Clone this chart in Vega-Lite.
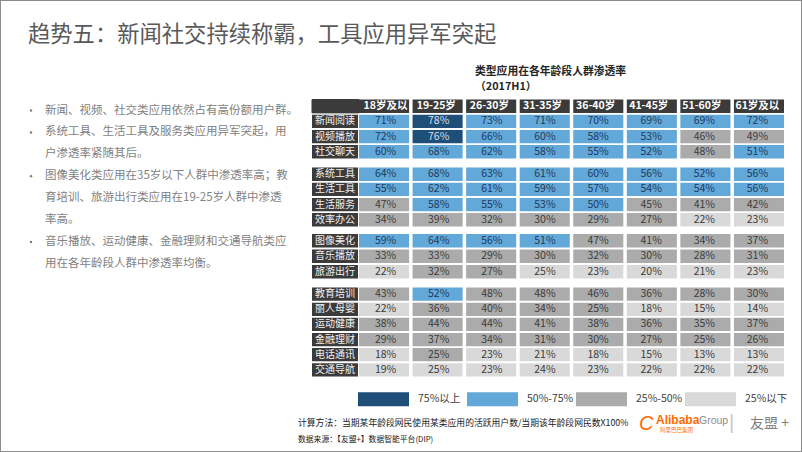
{
  "$schema": "https://vega.github.io/schema/vega-lite/v6.json",
  "width": 802,
  "height": 452,
  "autosize": {"type": "fit", "contains": "padding"},
  "padding": 0,
  "background": "#ffffff",
  "config": {
    "font": "Microsoft YaHei, Noto Sans CJK SC, sans-serif",
    "view": {"stroke": "#8c8c8c", "strokeWidth": 2}
  },
  "datasets": {
    "cells": [
      {"g":1,"app":"新闻阅读","age":"18岁及以下","v":0.71,"lv":"50%-75%"},
      {"g":1,"app":"新闻阅读","age":"19-25岁","v":0.78,"lv":"75%以上"},
      {"g":1,"app":"新闻阅读","age":"26-30岁","v":0.73,"lv":"50%-75%"},
      {"g":1,"app":"新闻阅读","age":"31-35岁","v":0.71,"lv":"50%-75%"},
      {"g":1,"app":"新闻阅读","age":"36-40岁","v":0.70,"lv":"50%-75%"},
      {"g":1,"app":"新闻阅读","age":"41-45岁","v":0.69,"lv":"50%-75%"},
      {"g":1,"app":"新闻阅读","age":"51-60岁","v":0.69,"lv":"50%-75%"},
      {"g":1,"app":"新闻阅读","age":"61岁及以上","v":0.72,"lv":"50%-75%"},
      {"g":1,"app":"视频播放","age":"18岁及以下","v":0.72,"lv":"50%-75%"},
      {"g":1,"app":"视频播放","age":"19-25岁","v":0.76,"lv":"75%以上"},
      {"g":1,"app":"视频播放","age":"26-30岁","v":0.66,"lv":"50%-75%"},
      {"g":1,"app":"视频播放","age":"31-35岁","v":0.60,"lv":"50%-75%"},
      {"g":1,"app":"视频播放","age":"36-40岁","v":0.58,"lv":"50%-75%"},
      {"g":1,"app":"视频播放","age":"41-45岁","v":0.53,"lv":"50%-75%"},
      {"g":1,"app":"视频播放","age":"51-60岁","v":0.46,"lv":"25%-50%"},
      {"g":1,"app":"视频播放","age":"61岁及以上","v":0.49,"lv":"25%-50%"},
      {"g":1,"app":"社交聊天","age":"18岁及以下","v":0.60,"lv":"50%-75%"},
      {"g":1,"app":"社交聊天","age":"19-25岁","v":0.68,"lv":"50%-75%"},
      {"g":1,"app":"社交聊天","age":"26-30岁","v":0.62,"lv":"50%-75%"},
      {"g":1,"app":"社交聊天","age":"31-35岁","v":0.58,"lv":"50%-75%"},
      {"g":1,"app":"社交聊天","age":"36-40岁","v":0.55,"lv":"50%-75%"},
      {"g":1,"app":"社交聊天","age":"41-45岁","v":0.52,"lv":"50%-75%"},
      {"g":1,"app":"社交聊天","age":"51-60岁","v":0.48,"lv":"25%-50%"},
      {"g":1,"app":"社交聊天","age":"61岁及以上","v":0.51,"lv":"50%-75%"},
      {"g":2,"app":"系统工具","age":"18岁及以下","v":0.64,"lv":"50%-75%"},
      {"g":2,"app":"系统工具","age":"19-25岁","v":0.68,"lv":"50%-75%"},
      {"g":2,"app":"系统工具","age":"26-30岁","v":0.63,"lv":"50%-75%"},
      {"g":2,"app":"系统工具","age":"31-35岁","v":0.61,"lv":"50%-75%"},
      {"g":2,"app":"系统工具","age":"36-40岁","v":0.60,"lv":"50%-75%"},
      {"g":2,"app":"系统工具","age":"41-45岁","v":0.56,"lv":"50%-75%"},
      {"g":2,"app":"系统工具","age":"51-60岁","v":0.52,"lv":"50%-75%"},
      {"g":2,"app":"系统工具","age":"61岁及以上","v":0.56,"lv":"50%-75%"},
      {"g":2,"app":"生活工具","age":"18岁及以下","v":0.55,"lv":"50%-75%"},
      {"g":2,"app":"生活工具","age":"19-25岁","v":0.62,"lv":"50%-75%"},
      {"g":2,"app":"生活工具","age":"26-30岁","v":0.61,"lv":"50%-75%"},
      {"g":2,"app":"生活工具","age":"31-35岁","v":0.59,"lv":"50%-75%"},
      {"g":2,"app":"生活工具","age":"36-40岁","v":0.57,"lv":"50%-75%"},
      {"g":2,"app":"生活工具","age":"41-45岁","v":0.54,"lv":"50%-75%"},
      {"g":2,"app":"生活工具","age":"51-60岁","v":0.54,"lv":"50%-75%"},
      {"g":2,"app":"生活工具","age":"61岁及以上","v":0.56,"lv":"50%-75%"},
      {"g":2,"app":"生活服务","age":"18岁及以下","v":0.47,"lv":"25%-50%"},
      {"g":2,"app":"生活服务","age":"19-25岁","v":0.58,"lv":"50%-75%"},
      {"g":2,"app":"生活服务","age":"26-30岁","v":0.55,"lv":"50%-75%"},
      {"g":2,"app":"生活服务","age":"31-35岁","v":0.53,"lv":"50%-75%"},
      {"g":2,"app":"生活服务","age":"36-40岁","v":0.50,"lv":"50%-75%"},
      {"g":2,"app":"生活服务","age":"41-45岁","v":0.45,"lv":"25%-50%"},
      {"g":2,"app":"生活服务","age":"51-60岁","v":0.41,"lv":"25%-50%"},
      {"g":2,"app":"生活服务","age":"61岁及以上","v":0.42,"lv":"25%-50%"},
      {"g":2,"app":"效率办公","age":"18岁及以下","v":0.34,"lv":"25%-50%"},
      {"g":2,"app":"效率办公","age":"19-25岁","v":0.39,"lv":"25%-50%"},
      {"g":2,"app":"效率办公","age":"26-30岁","v":0.32,"lv":"25%-50%"},
      {"g":2,"app":"效率办公","age":"31-35岁","v":0.30,"lv":"25%-50%"},
      {"g":2,"app":"效率办公","age":"36-40岁","v":0.29,"lv":"25%-50%"},
      {"g":2,"app":"效率办公","age":"41-45岁","v":0.27,"lv":"25%-50%"},
      {"g":2,"app":"效率办公","age":"51-60岁","v":0.22,"lv":"25%以下"},
      {"g":2,"app":"效率办公","age":"61岁及以上","v":0.23,"lv":"25%以下"},
      {"g":3,"app":"图像美化","age":"18岁及以下","v":0.59,"lv":"50%-75%"},
      {"g":3,"app":"图像美化","age":"19-25岁","v":0.64,"lv":"50%-75%"},
      {"g":3,"app":"图像美化","age":"26-30岁","v":0.56,"lv":"50%-75%"},
      {"g":3,"app":"图像美化","age":"31-35岁","v":0.51,"lv":"50%-75%"},
      {"g":3,"app":"图像美化","age":"36-40岁","v":0.47,"lv":"25%-50%"},
      {"g":3,"app":"图像美化","age":"41-45岁","v":0.41,"lv":"25%-50%"},
      {"g":3,"app":"图像美化","age":"51-60岁","v":0.34,"lv":"25%-50%"},
      {"g":3,"app":"图像美化","age":"61岁及以上","v":0.37,"lv":"25%-50%"},
      {"g":3,"app":"音乐播放","age":"18岁及以下","v":0.33,"lv":"25%-50%"},
      {"g":3,"app":"音乐播放","age":"19-25岁","v":0.33,"lv":"25%-50%"},
      {"g":3,"app":"音乐播放","age":"26-30岁","v":0.29,"lv":"25%-50%"},
      {"g":3,"app":"音乐播放","age":"31-35岁","v":0.30,"lv":"25%-50%"},
      {"g":3,"app":"音乐播放","age":"36-40岁","v":0.32,"lv":"25%-50%"},
      {"g":3,"app":"音乐播放","age":"41-45岁","v":0.30,"lv":"25%-50%"},
      {"g":3,"app":"音乐播放","age":"51-60岁","v":0.28,"lv":"25%-50%"},
      {"g":3,"app":"音乐播放","age":"61岁及以上","v":0.31,"lv":"25%-50%"},
      {"g":3,"app":"旅游出行","age":"18岁及以下","v":0.22,"lv":"25%以下"},
      {"g":3,"app":"旅游出行","age":"19-25岁","v":0.32,"lv":"25%-50%"},
      {"g":3,"app":"旅游出行","age":"26-30岁","v":0.27,"lv":"25%-50%"},
      {"g":3,"app":"旅游出行","age":"31-35岁","v":0.25,"lv":"25%以下"},
      {"g":3,"app":"旅游出行","age":"36-40岁","v":0.23,"lv":"25%以下"},
      {"g":3,"app":"旅游出行","age":"41-45岁","v":0.20,"lv":"25%以下"},
      {"g":3,"app":"旅游出行","age":"51-60岁","v":0.21,"lv":"25%以下"},
      {"g":3,"app":"旅游出行","age":"61岁及以上","v":0.23,"lv":"25%以下"},
      {"g":4,"app":"教育培训","age":"18岁及以下","v":0.43,"lv":"25%-50%"},
      {"g":4,"app":"教育培训","age":"19-25岁","v":0.52,"lv":"50%-75%"},
      {"g":4,"app":"教育培训","age":"26-30岁","v":0.48,"lv":"25%-50%"},
      {"g":4,"app":"教育培训","age":"31-35岁","v":0.48,"lv":"25%-50%"},
      {"g":4,"app":"教育培训","age":"36-40岁","v":0.46,"lv":"25%-50%"},
      {"g":4,"app":"教育培训","age":"41-45岁","v":0.36,"lv":"25%-50%"},
      {"g":4,"app":"教育培训","age":"51-60岁","v":0.28,"lv":"25%-50%"},
      {"g":4,"app":"教育培训","age":"61岁及以上","v":0.30,"lv":"25%-50%"},
      {"g":4,"app":"丽人母婴","age":"18岁及以下","v":0.22,"lv":"25%以下"},
      {"g":4,"app":"丽人母婴","age":"19-25岁","v":0.36,"lv":"25%-50%"},
      {"g":4,"app":"丽人母婴","age":"26-30岁","v":0.40,"lv":"25%-50%"},
      {"g":4,"app":"丽人母婴","age":"31-35岁","v":0.34,"lv":"25%-50%"},
      {"g":4,"app":"丽人母婴","age":"36-40岁","v":0.25,"lv":"25%-50%"},
      {"g":4,"app":"丽人母婴","age":"41-45岁","v":0.18,"lv":"25%以下"},
      {"g":4,"app":"丽人母婴","age":"51-60岁","v":0.15,"lv":"25%以下"},
      {"g":4,"app":"丽人母婴","age":"61岁及以上","v":0.14,"lv":"25%以下"},
      {"g":4,"app":"运动健康","age":"18岁及以下","v":0.38,"lv":"25%-50%"},
      {"g":4,"app":"运动健康","age":"19-25岁","v":0.44,"lv":"25%-50%"},
      {"g":4,"app":"运动健康","age":"26-30岁","v":0.44,"lv":"25%-50%"},
      {"g":4,"app":"运动健康","age":"31-35岁","v":0.41,"lv":"25%-50%"},
      {"g":4,"app":"运动健康","age":"36-40岁","v":0.38,"lv":"25%-50%"},
      {"g":4,"app":"运动健康","age":"41-45岁","v":0.36,"lv":"25%-50%"},
      {"g":4,"app":"运动健康","age":"51-60岁","v":0.35,"lv":"25%-50%"},
      {"g":4,"app":"运动健康","age":"61岁及以上","v":0.37,"lv":"25%-50%"},
      {"g":4,"app":"金融理财","age":"18岁及以下","v":0.29,"lv":"25%-50%"},
      {"g":4,"app":"金融理财","age":"19-25岁","v":0.37,"lv":"25%-50%"},
      {"g":4,"app":"金融理财","age":"26-30岁","v":0.34,"lv":"25%-50%"},
      {"g":4,"app":"金融理财","age":"31-35岁","v":0.31,"lv":"25%-50%"},
      {"g":4,"app":"金融理财","age":"36-40岁","v":0.30,"lv":"25%-50%"},
      {"g":4,"app":"金融理财","age":"41-45岁","v":0.27,"lv":"25%-50%"},
      {"g":4,"app":"金融理财","age":"51-60岁","v":0.25,"lv":"25%-50%"},
      {"g":4,"app":"金融理财","age":"61岁及以上","v":0.26,"lv":"25%-50%"},
      {"g":4,"app":"电话通讯","age":"18岁及以下","v":0.18,"lv":"25%以下"},
      {"g":4,"app":"电话通讯","age":"19-25岁","v":0.25,"lv":"25%-50%"},
      {"g":4,"app":"电话通讯","age":"26-30岁","v":0.23,"lv":"25%以下"},
      {"g":4,"app":"电话通讯","age":"31-35岁","v":0.21,"lv":"25%以下"},
      {"g":4,"app":"电话通讯","age":"36-40岁","v":0.18,"lv":"25%以下"},
      {"g":4,"app":"电话通讯","age":"41-45岁","v":0.15,"lv":"25%以下"},
      {"g":4,"app":"电话通讯","age":"51-60岁","v":0.13,"lv":"25%以下"},
      {"g":4,"app":"电话通讯","age":"61岁及以上","v":0.13,"lv":"25%以下"},
      {"g":4,"app":"交通导航","age":"18岁及以下","v":0.19,"lv":"25%以下"},
      {"g":4,"app":"交通导航","age":"19-25岁","v":0.25,"lv":"25%以下"},
      {"g":4,"app":"交通导航","age":"26-30岁","v":0.23,"lv":"25%以下"},
      {"g":4,"app":"交通导航","age":"31-35岁","v":0.24,"lv":"25%以下"},
      {"g":4,"app":"交通导航","age":"36-40岁","v":0.23,"lv":"25%以下"},
      {"g":4,"app":"交通导航","age":"41-45岁","v":0.22,"lv":"25%以下"},
      {"g":4,"app":"交通导航","age":"51-60岁","v":0.22,"lv":"25%以下"},
      {"g":4,"app":"交通导航","age":"61岁及以上","v":0.22,"lv":"25%以下"}
    ],
    "bullets": [
      {"n":1,"t":"新闻、视频、社交类应用依然占有高份额用户群。","d":1},
      {"n":2,"t":"系统工具、生活工具及服务类应用异军突起，用","d":1},
      {"n":3,"t":"户渗透率紧随其后。","d":0},
      {"n":4,"t":"图像美化类应用在35岁以下人群中渗透率高；教","d":1},
      {"n":5,"t":"育培训、旅游出行类应用在19-25岁人群中渗透","d":0},
      {"n":6,"t":"率高。","d":0},
      {"n":7,"t":"音乐播放、运动健康、金融理财和交通导航类应","d":1},
      {"n":8,"t":"用在各年龄段人群中渗透率均衡。","d":0}
    ]
  },
  "data": {"name": "cells"},
  "resolve": {"scale": {"x": "independent", "y": "independent"}},
  "layer": [
    {
      "transform": [{"filter": "datum.g == 1"}],
      "encoding": {"y": {"field": "app", "type": "nominal", "axis": null, "scale": {"domain": ["表头","新闻阅读","视频播放","社交聊天"], "range": [99.5, 158.5], "paddingInner": 0.12, "paddingOuter": 0}}},
      "layer": [
        {"transform": [{"filter": "datum.app == '新闻阅读'"}], "mark": {"type": "rect", "color": "#3b3b3b"},
         "encoding": {"x": {"field": "age", "type": "nominal", "sort": null, "axis": null, "scale": {"domain": ["18岁及以下","19-25岁","26-30岁","31-35岁","36-40岁","41-45岁","51-60岁","61岁及以上"], "range": [359, 784], "paddingInner": 0.065, "paddingOuter": 0}},
                      "y": {"datum": "表头", "type": "nominal", "axis": null, "scale": {"domain": ["表头","新闻阅读","视频播放","社交聊天"], "range": [99.5, 158.5], "paddingInner": 0.12, "paddingOuter": 0}}}},
        {"transform": [{"filter": "datum.app == '新闻阅读' && datum.age == '18岁及以下'"}], "mark": {"type": "rect", "color": "#3b3b3b", "stroke": "#3b3b3b", "strokeWidth": 1},
         "encoding": {"x": {"datum": "类型", "type": "nominal", "axis": null, "scale": {"domain": ["类型"], "range": [312, 359], "paddingInner": 0, "paddingOuter": 0}},
                      "y": {"datum": "表头", "type": "nominal", "axis": null, "scale": {"domain": ["表头","新闻阅读","视频播放","社交聊天"], "range": [99.5, 158.5], "paddingInner": 0.12, "paddingOuter": 0}}}},
        {"transform": [{"filter": "datum.app == '新闻阅读'"}], "mark": {"type": "text", "align": "left", "dx": -22, "fontSize": 10.5, "fontWeight": "bold", "color": "#ffffff", "limit": 48, "ellipsis": "\u200b"},
         "encoding": {"x": {"field": "age", "type": "nominal", "sort": null, "axis": null, "scale": {"domain": ["18岁及以下","19-25岁","26-30岁","31-35岁","36-40岁","41-45岁","51-60岁","61岁及以上"], "range": [359, 784], "paddingInner": 0.065, "paddingOuter": 0}},
                      "y": {"datum": "表头", "type": "nominal", "axis": null, "scale": {"domain": ["表头","新闻阅读","视频播放","社交聊天"], "range": [99.5, 158.5], "paddingInner": 0.12, "paddingOuter": 0}},
                      "text": {"field": "age"}}},
        {"mark": {"type": "rect"},
         "encoding": {"x": {"field": "age", "type": "nominal", "sort": null, "axis": null, "scale": {"domain": ["18岁及以下","19-25岁","26-30岁","31-35岁","36-40岁","41-45岁","51-60岁","61岁及以上"], "range": [359, 784], "paddingInner": 0.065, "paddingOuter": 0}},
                      "color": {"field": "lv", "type": "nominal", "scale": {"domain": ["75%以上","50%-75%","25%-50%","25%以下"], "range": ["#1f4e79","#62a8d8","#ababab","#d9d9d9"]},
                                "legend": {"orient": "none", "legendX": 358, "legendY": 373.5, "direction": "horizontal", "columns": 4, "title": null, "symbolType": "M-1,-0.2745H1V0.2745H-1Z", "symbolSize": 2601, "symbolStrokeWidth": 0, "symbolOpacity": 1, "labelFontSize": 10.5, "labelColor": "#404040", "labelOffset": 9, "columnPadding": 2, "gridAlign": "all", "padding": 0}}}},
        {"mark": {"type": "text", "fontSize": 10.5},
         "encoding": {"x": {"field": "age", "type": "nominal", "sort": null, "axis": null, "scale": {"domain": ["18岁及以下","19-25岁","26-30岁","31-35岁","36-40岁","41-45岁","51-60岁","61岁及以上"], "range": [359, 784], "paddingInner": 0.065, "paddingOuter": 0}},
                      "text": {"field": "v", "type": "quantitative", "format": ".0%"},
                      "color": {"condition": [{"test": "datum.lv === '75%以上'", "value": "#d6dfea"}, {"test": "datum.lv === '50%-75%'", "value": "#1f3a5f"}], "value": "#3c3c3c"}}},
        {"transform": [{"filter": "datum.age == '18岁及以下'"}], "mark": {"type": "rect", "color": "#3b3b3b"},
         "encoding": {"x": {"datum": "类型", "type": "nominal", "axis": null, "scale": {"domain": ["类型"], "range": [312, 358], "paddingInner": 0, "paddingOuter": 0}}}},
        {"transform": [{"filter": "datum.age == '18岁及以下'"}], "mark": {"type": "text", "fontSize": 10, "color": "#f0f0f0"},
         "encoding": {"x": {"datum": "类型", "type": "nominal", "axis": null, "scale": {"domain": ["类型"], "range": [312, 358], "paddingInner": 0, "paddingOuter": 0}}, "text": {"field": "app"}}}
      ],
      "resolve": {"scale": {"x": "independent"}}
    },
    {
      "transform": [{"filter": "datum.g == 2"}],
      "encoding": {"y": {"field": "app", "type": "nominal", "axis": null, "scale": {"domain": ["系统工具","生活工具","生活服务","效率办公"], "range": [167.5, 226.5], "paddingInner": 0.12, "paddingOuter": 0}}},
      "layer": [
        {"mark": {"type": "rect"},
         "encoding": {"x": {"field": "age", "type": "nominal", "sort": null, "axis": null, "scale": {"domain": ["18岁及以下","19-25岁","26-30岁","31-35岁","36-40岁","41-45岁","51-60岁","61岁及以上"], "range": [359, 784], "paddingInner": 0.065, "paddingOuter": 0}},
                      "color": {"field": "lv", "type": "nominal", "scale": {"domain": ["75%以上","50%-75%","25%-50%","25%以下"], "range": ["#1f4e79","#62a8d8","#ababab","#d9d9d9"]},
                                "legend": {"orient": "none", "legendX": 358, "legendY": 373.5, "direction": "horizontal", "columns": 4, "title": null, "symbolType": "M-1,-0.2745H1V0.2745H-1Z", "symbolSize": 2601, "symbolStrokeWidth": 0, "symbolOpacity": 1, "labelFontSize": 10.5, "labelColor": "#404040", "labelOffset": 9, "columnPadding": 2, "gridAlign": "all", "padding": 0}}}},
        {"mark": {"type": "text", "fontSize": 10.5},
         "encoding": {"x": {"field": "age", "type": "nominal", "sort": null, "axis": null, "scale": {"domain": ["18岁及以下","19-25岁","26-30岁","31-35岁","36-40岁","41-45岁","51-60岁","61岁及以上"], "range": [359, 784], "paddingInner": 0.065, "paddingOuter": 0}},
                      "text": {"field": "v", "type": "quantitative", "format": ".0%"},
                      "color": {"condition": [{"test": "datum.lv === '75%以上'", "value": "#d6dfea"}, {"test": "datum.lv === '50%-75%'", "value": "#1f3a5f"}], "value": "#3c3c3c"}}},
        {"transform": [{"filter": "datum.age == '18岁及以下'"}], "mark": {"type": "rect", "color": "#3b3b3b"},
         "encoding": {"x": {"datum": "类型", "type": "nominal", "axis": null, "scale": {"domain": ["类型"], "range": [312, 358], "paddingInner": 0, "paddingOuter": 0}}}},
        {"transform": [{"filter": "datum.age == '18岁及以下'"}], "mark": {"type": "text", "fontSize": 10, "color": "#f0f0f0"},
         "encoding": {"x": {"datum": "类型", "type": "nominal", "axis": null, "scale": {"domain": ["类型"], "range": [312, 358], "paddingInner": 0, "paddingOuter": 0}}, "text": {"field": "app"}}}
      ],
      "resolve": {"scale": {"x": "independent"}}
    },
    {
      "transform": [{"filter": "datum.g == 3"}],
      "encoding": {"y": {"field": "app", "type": "nominal", "axis": null, "scale": {"domain": ["图像美化","音乐播放","旅游出行"], "range": [234, 278.5], "paddingInner": 0.12, "paddingOuter": 0}}},
      "layer": [
        {"mark": {"type": "rect"},
         "encoding": {"x": {"field": "age", "type": "nominal", "sort": null, "axis": null, "scale": {"domain": ["18岁及以下","19-25岁","26-30岁","31-35岁","36-40岁","41-45岁","51-60岁","61岁及以上"], "range": [359, 784], "paddingInner": 0.065, "paddingOuter": 0}},
                      "color": {"field": "lv", "type": "nominal", "scale": {"domain": ["75%以上","50%-75%","25%-50%","25%以下"], "range": ["#1f4e79","#62a8d8","#ababab","#d9d9d9"]},
                                "legend": {"orient": "none", "legendX": 358, "legendY": 373.5, "direction": "horizontal", "columns": 4, "title": null, "symbolType": "M-1,-0.2745H1V0.2745H-1Z", "symbolSize": 2601, "symbolStrokeWidth": 0, "symbolOpacity": 1, "labelFontSize": 10.5, "labelColor": "#404040", "labelOffset": 9, "columnPadding": 2, "gridAlign": "all", "padding": 0}}}},
        {"mark": {"type": "text", "fontSize": 10.5},
         "encoding": {"x": {"field": "age", "type": "nominal", "sort": null, "axis": null, "scale": {"domain": ["18岁及以下","19-25岁","26-30岁","31-35岁","36-40岁","41-45岁","51-60岁","61岁及以上"], "range": [359, 784], "paddingInner": 0.065, "paddingOuter": 0}},
                      "text": {"field": "v", "type": "quantitative", "format": ".0%"},
                      "color": {"condition": [{"test": "datum.lv === '75%以上'", "value": "#d6dfea"}, {"test": "datum.lv === '50%-75%'", "value": "#1f3a5f"}], "value": "#3c3c3c"}}},
        {"transform": [{"filter": "datum.age == '18岁及以下'"}], "mark": {"type": "rect", "color": "#3b3b3b"},
         "encoding": {"x": {"datum": "类型", "type": "nominal", "axis": null, "scale": {"domain": ["类型"], "range": [312, 358], "paddingInner": 0, "paddingOuter": 0}}}},
        {"transform": [{"filter": "datum.age == '18岁及以下'"}], "mark": {"type": "text", "fontSize": 10, "color": "#f0f0f0"},
         "encoding": {"x": {"datum": "类型", "type": "nominal", "axis": null, "scale": {"domain": ["类型"], "range": [312, 358], "paddingInner": 0, "paddingOuter": 0}}, "text": {"field": "app"}}}
      ],
      "resolve": {"scale": {"x": "independent"}}
    },
    {
      "transform": [{"filter": "datum.g == 4"}],
      "encoding": {"y": {"field": "app", "type": "nominal", "axis": null, "scale": {"domain": ["教育培训","丽人母婴","运动健康","金融理财","电话通讯","交通导航"], "range": [287.5, 376.5], "paddingInner": 0.12, "paddingOuter": 0}}},
      "layer": [
        {"mark": {"type": "rect"},
         "encoding": {"x": {"field": "age", "type": "nominal", "sort": null, "axis": null, "scale": {"domain": ["18岁及以下","19-25岁","26-30岁","31-35岁","36-40岁","41-45岁","51-60岁","61岁及以上"], "range": [359, 784], "paddingInner": 0.065, "paddingOuter": 0}},
                      "color": {"field": "lv", "type": "nominal", "scale": {"domain": ["75%以上","50%-75%","25%-50%","25%以下"], "range": ["#1f4e79","#62a8d8","#ababab","#d9d9d9"]},
                                "legend": {"orient": "none", "legendX": 358, "legendY": 373.5, "direction": "horizontal", "columns": 4, "title": null, "symbolType": "M-1,-0.2745H1V0.2745H-1Z", "symbolSize": 2601, "symbolStrokeWidth": 0, "symbolOpacity": 1, "labelFontSize": 10.5, "labelColor": "#404040", "labelOffset": 9, "columnPadding": 2, "gridAlign": "all", "padding": 0}}}},
        {"mark": {"type": "text", "fontSize": 10.5},
         "encoding": {"x": {"field": "age", "type": "nominal", "sort": null, "axis": null, "scale": {"domain": ["18岁及以下","19-25岁","26-30岁","31-35岁","36-40岁","41-45岁","51-60岁","61岁及以上"], "range": [359, 784], "paddingInner": 0.065, "paddingOuter": 0}},
                      "text": {"field": "v", "type": "quantitative", "format": ".0%"},
                      "color": {"condition": [{"test": "datum.lv === '75%以上'", "value": "#d6dfea"}, {"test": "datum.lv === '50%-75%'", "value": "#1f3a5f"}], "value": "#3c3c3c"}}},
        {"transform": [{"filter": "datum.age == '18岁及以下'"}], "mark": {"type": "rect", "color": "#3b3b3b"},
         "encoding": {"x": {"datum": "类型", "type": "nominal", "axis": null, "scale": {"domain": ["类型"], "range": [312, 358], "paddingInner": 0, "paddingOuter": 0}}}},
        {"transform": [{"filter": "datum.age == '18岁及以下'"}], "mark": {"type": "text", "fontSize": 10, "color": "#f0f0f0"},
         "encoding": {"x": {"datum": "类型", "type": "nominal", "axis": null, "scale": {"domain": ["类型"], "range": [312, 358], "paddingInner": 0, "paddingOuter": 0}}, "text": {"field": "app"}}}
      ],
      "resolve": {"scale": {"x": "independent"}}
    },
    {
      "data": {"values": [{"t": "趋势五：新闻社交持续称霸，工具应用异军突起"}]},
      "mark": {"type": "text", "align": "left", "baseline": "middle", "fontSize": 22.3, "color": "#595959"},
      "encoding": {"x": {"datum": 0, "type": "quantitative", "axis": null, "scale": {"domain": [0, 1], "range": [28, 29]}},
                   "y": {"datum": 0, "type": "quantitative", "axis": null, "scale": {"domain": [0, 1], "range": [35, 36]}},
                   "text": {"field": "t"}}
    },
    {
      "data": {"name": "bullets"},
      "mark": {"type": "text", "align": "left", "baseline": "middle", "fontSize": 11.5, "color": "#7f7f7f"},
      "encoding": {"x": {"datum": 0, "type": "quantitative", "axis": null, "scale": {"domain": [0, 1], "range": [45, 46]}},
                   "y": {"field": "n", "type": "ordinal", "axis": null, "scale": {"type": "point", "domain": [1,2,3,4,5,6,7,8], "range": [110.5, 264], "padding": 0}},
                   "text": {"field": "t"}}
    },
    {
      "data": {"name": "bullets"},
      "transform": [{"filter": "datum.d == 1"}],
      "mark": {"type": "circle", "size": 6, "color": "#7f7f7f", "opacity": 1},
      "encoding": {"x": {"datum": 0, "type": "quantitative", "axis": null, "scale": {"domain": [0, 1], "range": [31, 32]}},
                   "y": {"field": "n", "type": "ordinal", "axis": null, "scale": {"type": "point", "domain": [1,2,3,4,5,6,7,8], "range": [110.5, 264], "padding": 0}}}
    },
    {
      "data": {"values": [{"n": 1, "t": "类型应用在各年龄段人群渗透率"}, {"n": 2, "t": "（2017H1）"}]},
      "mark": {"type": "text", "align": "left", "baseline": "middle", "fontSize": 10.8, "fontWeight": "bold", "color": "#262626"},
      "encoding": {"x": {"datum": 0, "type": "quantitative", "axis": null, "scale": {"domain": [0, 1], "range": [475, 476]}},
                   "y": {"field": "n", "type": "ordinal", "axis": null, "scale": {"type": "point", "domain": [1, 2], "range": [71.5, 86.5], "padding": 0}},
                   "text": {"field": "t"}}
    },
    {
      "data": {"values": [{"n": 1, "t": "计算方法：当期某年龄段网民使用某类应用的活跃用户数/当期该年龄段网民数X100%"}, {"n": 2, "t": "数据来源：【友盟+】数据智能平台(DIP)"}]},
      "mark": {"type": "text", "align": "left", "baseline": "middle", "color": "#1a1a1a"},
      "encoding": {"x": {"datum": 0, "type": "quantitative", "axis": null, "scale": {"domain": [0, 1], "range": [298, 299]}},
                   "y": {"field": "n", "type": "ordinal", "axis": null, "scale": {"type": "point", "domain": [1, 2], "range": [423, 440], "padding": 0}},
                   "size": {"condition": {"test": "datum.n == 1", "value": 8.8}, "value": 7.8},
                   "text": {"field": "t"}}
    },
    {
      "data": {"values": [{"t": "Alibaba"}]},
      "mark": {"type": "text", "align": "left", "baseline": "middle", "fontSize": 12, "fontWeight": "bold", "color": "#ff6a00", "font": "Liberation Sans"},
      "encoding": {"x": {"datum": 0, "type": "quantitative", "axis": null, "scale": {"domain": [0, 1], "range": [656, 657]}},
                   "y": {"datum": 0, "type": "quantitative", "axis": null, "scale": {"domain": [0, 1], "range": [420, 421]}},
                   "text": {"field": "t"}}
    },
    {
      "data": {"values": [{"t": "Group"}]},
      "mark": {"type": "text", "align": "left", "baseline": "middle", "fontSize": 10.5, "color": "#8c8c8c", "font": "Liberation Sans"},
      "encoding": {"x": {"datum": 0, "type": "quantitative", "axis": null, "scale": {"domain": [0, 1], "range": [699, 700]}},
                   "y": {"datum": 0, "type": "quantitative", "axis": null, "scale": {"domain": [0, 1], "range": [421, 422]}},
                   "text": {"field": "t"}}
    },
    {
      "data": {"values": [{"t": "阿里巴巴集团"}]},
      "mark": {"type": "text", "align": "left", "baseline": "middle", "fontSize": 5.5, "color": "#ff6a00"},
      "encoding": {"x": {"datum": 0, "type": "quantitative", "axis": null, "scale": {"domain": [0, 1], "range": [660, 661]}},
                   "y": {"datum": 0, "type": "quantitative", "axis": null, "scale": {"domain": [0, 1], "range": [429.5, 430.5]}},
                   "text": {"field": "t"}}
    },
    {
      "data": {"values": [{"t": "C"}]},
      "mark": {"type": "text", "align": "left", "baseline": "middle", "fontSize": 20, "fontStyle": "italic", "color": "#ff6a00", "font": "Liberation Sans"},
      "encoding": {"x": {"datum": 0, "type": "quantitative", "axis": null, "scale": {"domain": [0, 1], "range": [639, 640]}},
                   "y": {"datum": 0, "type": "quantitative", "axis": null, "scale": {"domain": [0, 1], "range": [424, 425]}},
                   "text": {"field": "t"}}
    },
    {
      "data": {"values": [{"t": "|"}]},
      "mark": {"type": "text", "align": "left", "baseline": "middle", "fontSize": 20, "color": "#c8c8c8", "font": "Liberation Sans"},
      "encoding": {"x": {"datum": 0, "type": "quantitative", "axis": null, "scale": {"domain": [0, 1], "range": [729, 730]}},
                   "y": {"datum": 0, "type": "quantitative", "axis": null, "scale": {"domain": [0, 1], "range": [423, 424]}},
                   "text": {"field": "t"}}
    },
    {
      "data": {"values": [{"t": "友盟 +"}]},
      "mark": {"type": "text", "align": "left", "baseline": "middle", "fontSize": 14, "color": "#7f7f7f"},
      "encoding": {"x": {"datum": 0, "type": "quantitative", "axis": null, "scale": {"domain": [0, 1], "range": [750, 751]}},
                   "y": {"datum": 0, "type": "quantitative", "axis": null, "scale": {"domain": [0, 1], "range": [424, 425]}},
                   "text": {"field": "t"}}
    }
  ]
}
